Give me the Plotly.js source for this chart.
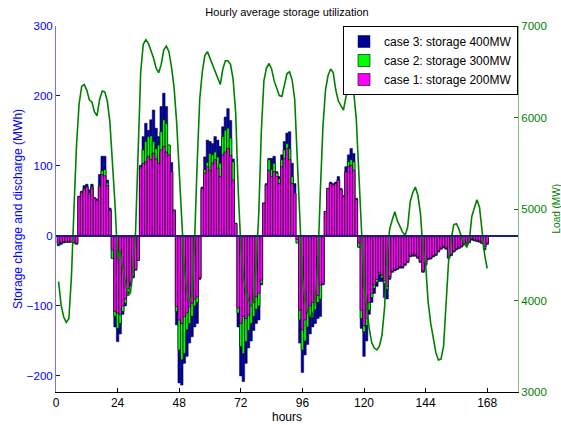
<!DOCTYPE html>
<html><head><meta charset="utf-8">
<script src="https://cdn.plot.ly/plotly-3.0.1.min.js"></script>
<style>html,body{margin:0;padding:0;background:#fff}#chart{width:561px;height:425px}</style>
</head><body><div id="chart"></div>
<script>
// hour index 1..168
const hours = [];
for (let h = 1; h <= 168; h++) hours.push(h);

const xTickVals = [0, 24, 48, 72, 96, 120, 144, 168];
const yTickVals = [-200, -100, 0, 100, 200, 300];
const y2TickVals = [3000, 4000, 5000, 6000, 7000];

const seriesNames = ['case 3: storage 400MW', 'case 2: storage 300MW', 'case 1: storage 200MW'];

// case 1: storage 200MW (MWh)
const case1 = [
 -10, -9, -8, -8, -8, -8, -9, -10,
 56, 62, 66, 70, 60, 68, 54, 51, 70, 88, 86, 72, 37,
 -20, -108, -110, -112, -100, -90, -75, -65, -58, -48, -35,
 97, 104, 106, 113, 109, 118, 110, 104, 123, 128, 120, 116, 92, 37,
 -101, -120, -125, -115, -110, -101, -96, -90, -87, -60,
 68, 90, 99, 94, 104, 109, 97, 85, 116, 120, 125, 115, 80, 18,
 -103, -125, -115, -118, -113, -100, -95, -87, -82, -63,
 47, 73, 94, 85, 92, 85, 75, 99, 111, 125, 109, 75, 61,
 -5,
 -106, -134, -120, -110, -100, -95, -90, -85, -70, -68,
 35, 68, 75, 73, 75, 80, 66, 56, 92, 99, 101, 94, 52,
 -10, -106, -128, -118, -95, -82, -70, -62, -52, -56, -64, -72, -58,
 -50, -48, -46, -44, -44, -40, -36, -28, -27, -27,
 -30, -36, -50, -40, -32, -31, -28, -26, -21, -17,
 -15, -17, -30, -26, -21, -18, -16, -14, -11, -10,
 -8, -4, -5, -6, -7, -9, -15, -10
];

// case 2: storage 300MW (MWh)
const case2 = [
 -12, -10, -9, -9, -9, -9, -10, -11,
 56, 63, 68, 71, 62, 70, 54, 52, 72, 93, 95, 76, 37,
 -32, -115, -132, -125, -108, -96, -80, -67, -58, -48, -35,
 99, 123, 135, 142, 143, 135, 125, 130, 149, 166, 161, 130, 92, 37,
 -108, -163, -177, -168, -134, -125, -115, -100, -95, -60,
 68, 95, 105, 118, 116, 120, 113, 104, 142, 151, 154, 140, 106, 18,
 -110, -158, -168, -151, -135, -125, -115, -105, -100, -68,
 47, 73, 109, 95, 104, 90, 82, 109, 123, 132, 125, 85, 61,
 -10,
 -120, -163, -150, -130, -115, -110, -105, -95, -90, -68,
 35, 68, 75, 73, 75, 80, 66, 56, 92, 106, 109, 106, 52,
 -16, -118, -137, -128, -106, -88, -75, -66, -55, -60, -68, -76, -60,
 -51, -49, -47, -45, -45, -41, -37, -29, -28, -28,
 -31, -37, -51, -41, -33, -32, -29, -27, -22, -18,
 -16, -18, -31, -27, -22, -19, -17, -15, -12, -11,
 -9, -5, -6, -7, -8, -10, -18, -11
];

// case 3: storage 400MW (MWh)
const case3 = [
 -14, -12, -10, -9, -9, -8, -10, -12,
 57, 64, 72, 74, 66, 74, 55, 53, 88, 114, 114, 80, 40,
 -32, -130, -151, -140, -112, -100, -85, -72, -60, -49, -35,
 101, 142, 161, 151, 166, 180, 154, 142, 185, 204, 185, 130, 105, 37,
 -127, -210, -213, -182, -172, -153, -144, -130, -125, -62,
 70, 113, 137, 135, 132, 142, 137, 128, 156, 170, 182, 165, 110, 18,
 -130, -200, -208, -182, -160, -150, -135, -125, -120, -70,
 47, 75, 111, 111, 114, 92, 85, 116, 135, 147, 149, 104, 75,
 -10,
 -153, -195, -170, -155, -140, -130, -125, -118, -115, -70,
 35, 68, 77, 75, 77, 85, 68, 58, 99, 116, 125, 118, 54,
 -16, -132, -172, -150, -112, -95, -82, -72, -65, -65, -88, -90, -62,
 -52, -50, -48, -46, -46, -42, -38, -30, -29, -29,
 -32, -38, -52, -42, -34, -33, -30, -28, -23, -19,
 -17, -19, -32, -28, -23, -20, -18, -16, -13, -12,
 -10, -6, -7, -8, -9, -11, -20, -12
];

// system load (MW), right axis
const load = [
 4206, 3950, 3820, 3760, 3800, 4250, 5000, 5700, 6150, 6340, 6360, 6300, 6190, 6170, 6060, 6020, 6200, 6290, 6280, 6180, 5950, 5550, 5050, 4450,
 4550, 4350, 4200, 4060, 4080, 4350, 4750, 5600, 6500, 6800, 6850, 6810, 6740, 6650, 6540, 6490, 6580, 6740, 6780, 6720, 6550, 6330, 5950, 5400,
 4800, 4350, 4100, 3990, 4050, 4650, 5500, 6200, 6500, 6680, 6720, 6650, 6560, 6500, 6440, 6360, 6530, 6620, 6620, 6580, 6420, 6050, 5200, 4600,
 4250, 4100, 4000, 3935, 4000, 4400, 4950, 5850, 6400, 6540, 6590, 6530, 6400, 6330, 6240, 6230, 6370, 6480, 6500, 6410, 6200, 5550, 4800, 4250,
 4000, 3880, 3830, 3820, 4000, 4400, 5200, 5900, 6300, 6460, 6530, 6490, 6300, 6180, 6130, 6080, 6230, 6330, 6350, 6280, 5980, 5350, 4650, 4190,
 3930, 3700, 3540, 3480, 3460, 3500, 3620, 3920, 4480, 4780, 4880, 4970, 4870, 4800, 4750, 4710, 4800, 5080, 5180, 5240, 5150, 4950, 4550, 4400,
 3980, 3750, 3570, 3430, 3350, 3360, 3500, 4000, 4450, 4680, 4830, 4840, 4780, 4690, 4630, 4580, 4650, 4920, 5010, 5100, 5020, 4780, 4500, 4350
];

const FONT = 'Liberation Sans, Arial, Helvetica, sans-serif';
const BLUE = '#0000ff';
const GREEN = '#008000';

const traces = [
  {type: 'bar', x: hours, y: case3, name: seriesNames[0], width: 1,
   marker: {color: '#00008f', line: {color: '#00006a', width: 0.5}}},
  {type: 'bar', x: hours, y: case2, name: seriesNames[1], width: 1,
   marker: {color: '#00ff00', line: {color: '#000000', width: 0.6}}},
  {type: 'bar', x: hours, y: case1, name: seriesNames[2], width: 1,
   marker: {color: '#ff00ff', line: {color: '#000000', width: 0.6}}},
  {type: 'scatter', mode: 'lines', x: hours, y: load, yaxis: 'y2', name: 'Load',
   line: {color: GREEN, width: 1.6}, showlegend: false, hoverinfo: 'skip'}
];

const layout = {
  width: 561, height: 425,
  margin: {l: 56, r: 43, t: 26, b: 33, pad: 0},
  paper_bgcolor: '#ffffff', plot_bgcolor: '#ffffff',
  font: {family: FONT, size: 12, color: '#000000'},
  barmode: 'overlay', bargap: 0,
  showlegend: true,
  title: {text: 'Hourly average storage utilization', font: {size: 11, color: '#000'},
          x: 0.5, xref: 'paper', xanchor: 'center', y: 0.972, yref: 'container', yanchor: 'middle'},
  xaxis: {range: [0, 180], tickvals: xTickVals, ticks: 'inside', ticklen: 4, tickcolor: '#000',
          showline: true, linecolor: '#000', linewidth: 1, showgrid: false, zeroline: false,
          tickfont: {size: 12, color: '#000'},
          title: {text: 'hours', standoff: 2, font: {size: 12, color: '#000'}}},
  yaxis: {range: [-222.9, 300], tickvals: yTickVals, ticks: 'inside', ticklen: 4, tickcolor: BLUE,
          showline: true, linecolor: '#7070ff', linewidth: 1, showgrid: false,
          zeroline: true, zerolinecolor: '#1c1c80', zerolinewidth: 1.5,
          layer: 'above traces', zerolinelayer: 'above traces',
          tickfont: {size: 11.5, color: BLUE},
          title: {text: 'Storage charge and discharge (MWh)', standoff: 1, font: {size: 12, color: BLUE}}},
  yaxis2: {overlaying: 'y', side: 'right', range: [3000, 7000], tickvals: y2TickVals,
           ticks: 'inside', ticklen: 4, tickcolor: GREEN, showline: true, linecolor: '#80c080', linewidth: 1,
           showgrid: false, zeroline: false, tickfont: {size: 11.5, color: GREEN}},
  legend: {x: 1, xanchor: 'right', y: 1, yanchor: 'top', bgcolor: '#ffffff',
           bordercolor: '#000000', borderwidth: 1, font: {size: 12, color: '#000'}},
  annotations: [{text: 'Load (MW)', xref: 'paper', yref: 'paper', x: 1.0833, y: 0.5,
                 xanchor: 'center', yanchor: 'middle', textangle: -90, showarrow: false,
                 font: {size: 10, color: GREEN}}]
};

Plotly.newPlot('chart', traces, layout, {displayModeBar: false, staticPlot: true});
</script>
</body></html>
